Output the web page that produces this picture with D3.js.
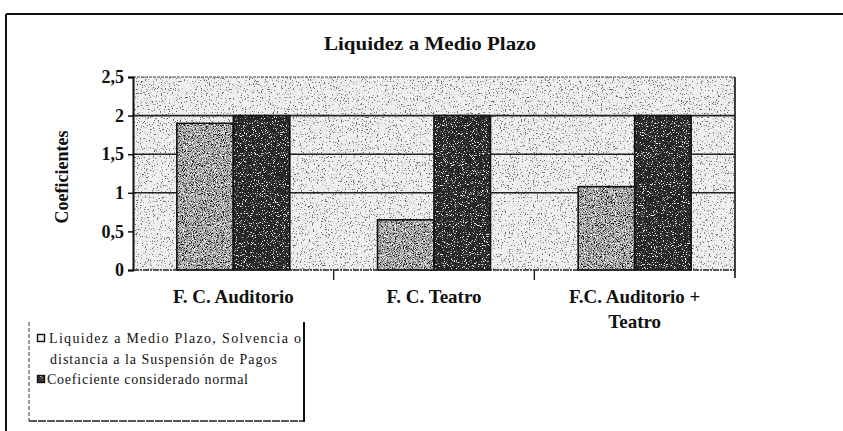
<!DOCTYPE html>
<html>
<head>
<meta charset="utf-8">
<script src="https://cdn.jsdelivr.net/npm/d3@7"></script>
<style>
  body { margin: 0; background: #fff; }
  svg { display: block; }
  text { font-family: "Liberation Serif", "DejaVu Serif", serif; fill: #111; }
</style>
</head>
<body>
<script>
// chart values
var categories = ["F. C. Auditorio", "F. C. Teatro", "F.C. Auditorio + Teatro"];
var categoryLines = [["F. C. Auditorio"], ["F. C. Teatro"], ["F.C. Auditorio +", "Teatro"]];
var liquidez = [1.9, 0.65, 1.08];
var normal = [2, 2, 2];
var yTicks = [0, 0.5, 1, 1.5, 2, 2.5];
var yTickLabels = ["0", "0,5", "1", "1,5", "2", "2,5"];
var gridValues = [1, 1.5, 2];
var seriesNames = ["Liquidez a Medio Plazo, Solvencia o distancia a la Suspensión de Pagos",
                   "Coeficiente considerado normal"];

var width = 843, height = 431;
var plot = {left: 133, right: 735, top: 77, bottom: 270};

var svg = d3.select("body").append("svg")
    .attr("width", width).attr("height", height);
var defs = svg.append("defs");

// speckle texture like the scanned hatch fills
function speckle(id, seed, freq, rgb, k, off) {
  var f = defs.append("filter").attr("id", id)
      .attr("x", 0).attr("y", 0).attr("width", 1).attr("height", 1)
      .attr("color-interpolation-filters", "sRGB");
  f.append("feTurbulence").attr("type", "fractalNoise")
      .attr("baseFrequency", freq).attr("numOctaves", 2).attr("seed", seed).attr("result", "n");
  f.append("feColorMatrix").attr("in", "n").attr("type", "matrix")
      .attr("values", "0 0 0 0 " + rgb[0] + "  0 0 0 0 " + rgb[1] + "  0 0 0 0 " + rgb[2] + "  " + k + " 0 0 0 " + off);
}
speckle("bgDots", 3, 0.75, [0.4, 0.4, 0.4], 9, -5.5);
speckle("lightDark", 5, 0.9, [0.1, 0.1, 0.1], 7, -3.6);
speckle("lightWhite", 9, 0.9, [1, 1, 1], -7, 3.2);
speckle("darkWhite", 7, 0.9, [1, 1, 1], -8, 3.3);

function texturedRect(g, x, y, w, h, base, filters) {
  g.append("rect").attr("x", x).attr("y", y).attr("width", w).attr("height", h).attr("fill", base);
  filters.forEach(function(f) {
    g.append("rect").attr("x", x).attr("y", y).attr("width", w).attr("height", h)
        .attr("fill", "#000").attr("filter", "url(#" + f + ")");
  });
}

// outer frame (only top and left survive in the scan)
svg.append("line").attr("x1", 6).attr("x2", width).attr("y1", 14).attr("y2", 14)
    .attr("stroke", "#111").attr("stroke-width", 2);
svg.append("line").attr("x1", 6).attr("x2", 6).attr("y1", 14).attr("y2", height)
    .attr("stroke", "#111").attr("stroke-width", 2);

// title
svg.append("text").attr("x", 430).attr("y", 50).attr("text-anchor", "middle")
    .attr("textLength", 212).attr("lengthAdjust", "spacingAndGlyphs")
    .style("font-size", "19px").style("font-weight", "bold")
    .text("Liquidez a Medio Plazo");

var x = d3.scaleBand().domain(categories).range([plot.left, plot.right])
    .paddingInner(0.437).paddingOuter(0.2185);
var xSub = d3.scaleBand().domain([0, 1]).range([0, x.bandwidth()]);
var y = d3.scaleLinear().domain([0, 2.5]).range([plot.bottom, plot.top]);

// plot background
var bg = svg.append("g");
texturedRect(bg, plot.left, y(2.5), plot.right - plot.left, y(0) - y(2.5), "#f0f0f0", ["bgDots"]);

// gridlines
svg.append("g").selectAll("line").data(gridValues).enter().append("line")
    .attr("x1", plot.left).attr("x2", plot.right)
    .attr("y1", function(d) { return y(d); }).attr("y2", function(d) { return y(d); })
    .attr("stroke", "#222").attr("stroke-width", 1.6);
svg.append("line").attr("x1", plot.left).attr("x2", plot.right)
    .attr("y1", y(2.5)).attr("y2", y(2.5))
    .attr("stroke", "#444").attr("stroke-width", 1.2).attr("stroke-dasharray", "3,1");
svg.append("line").attr("x1", plot.right).attr("x2", plot.right)
    .attr("y1", y(2.5)).attr("y2", y(0) + 8)
    .attr("stroke", "#111").attr("stroke-width", 1.6);

// bars
var bars = svg.append("g");
categories.forEach(function(c, i) {
  var x0 = x(c);
  texturedRect(bars, x0 + xSub(0), y(liquidez[i]), xSub.bandwidth(), y(0) - y(liquidez[i]),
      "#ababab", ["lightDark", "lightWhite"]);
  texturedRect(bars, x0 + xSub(1), y(normal[i]), xSub.bandwidth(), y(0) - y(normal[i]),
      "#262626", ["darkWhite"]);
});
bars.selectAll("rect.outline")
    .data(categories.flatMap(function(c, i) {
      return [{c: c, s: 0, v: liquidez[i]}, {c: c, s: 1, v: normal[i]}];
    }))
    .enter().append("rect").attr("class", "outline")
    .attr("x", function(d) { return x(d.c) + xSub(d.s); })
    .attr("y", function(d) { return y(d.v); })
    .attr("width", xSub.bandwidth())
    .attr("height", function(d) { return y(0) - y(d.v); })
    .attr("fill", "none").attr("stroke", "#111").attr("stroke-width", 1.6);

// y axis
var yAxis = svg.append("g").attr("transform", "translate(" + plot.left + ",0)")
    .call(d3.axisLeft(y).tickValues(yTicks)
      .tickFormat(function(d, i) { return yTickLabels[i]; })
      .tickSize(5).tickPadding(4));
yAxis.select(".domain").attr("stroke", "#111").attr("stroke-width", 2);
yAxis.selectAll(".tick line").attr("stroke", "#111").attr("stroke-width", 1.5);
yAxis.selectAll(".tick text")
    .style("font-family", "'Liberation Serif', serif")
    .style("font-size", "18px").style("font-weight", "bold").attr("fill", "#111");

// x axis
var xAxis = svg.append("g").attr("transform", "translate(0," + plot.bottom + ")");
xAxis.append("line").attr("x1", plot.left).attr("x2", plot.right)
    .attr("stroke", "#222").attr("stroke-width", 1.6).attr("stroke-dasharray", "6,1,2,1");
xAxis.selectAll("line.tick").data(categories.slice(1)).enter().append("line")
    .attr("class", "tick")
    .attr("x1", function(d) { return x(d) - x.step() * x.paddingInner() / 2; })
    .attr("x2", function(d) { return x(d) - x.step() * x.paddingInner() / 2; })
    .attr("y1", 0).attr("y2", 10).attr("stroke", "#222").attr("stroke-width", 1.4);
var catLabels = xAxis.selectAll("text.cat").data(categories).enter().append("text")
    .attr("class", "cat")
    .attr("text-anchor", "middle")
    .style("font-size", "19px").style("font-weight", "bold");
catLabels.each(function(d, i) {
  var t = d3.select(this);
  categoryLines[i].forEach(function(line, j) {
    t.append("tspan").attr("x", x(d) + x.bandwidth() / 2).attr("y", 33 + j * 25).text(line);
  });
});

// y title
svg.append("text")
    .attr("transform", "translate(68,177) rotate(-90)")
    .attr("text-anchor", "middle")
    .style("font-size", "18px").style("font-weight", "bold")
    .text("Coeficientes");

// legend
var lg = svg.append("g");
lg.append("line").attr("x1", 29).attr("x2", 29).attr("y1", 322).attr("y2", 421)
    .attr("stroke", "#333").attr("stroke-width", 1).attr("stroke-dasharray", "4,2");
lg.append("line").attr("x1", 29).attr("x2", 304).attr("y1", 421).attr("y2", 421)
    .attr("stroke", "#222").attr("stroke-width", 1.6).attr("stroke-dasharray", "8,1");
lg.append("line").attr("x1", 304).attr("x2", 304).attr("y1", 322).attr("y2", 422)
    .attr("stroke", "#111").attr("stroke-width", 2);

lg.append("rect").attr("x", 37.5).attr("y", 334.5).attr("width", 7).attr("height", 7)
    .attr("fill", "#eee").attr("stroke", "#111").attr("stroke-width", 1.4);
var m2 = lg.append("g");
texturedRect(m2, 37.5, 375.5, 7, 7, "#333", ["darkWhite"]);
lg.append("rect").attr("x", 37.5).attr("y", 375.5).attr("width", 7).attr("height", 7)
    .attr("fill", "none").attr("stroke", "#111").attr("stroke-width", 1.4);

var legendText = [
  {t: "Liquidez a Medio Plazo, Solvencia o", x: 49, y: 343, w: 252},
  {t: "distancia a la Suspensión de Pagos", x: 50, y: 364, w: 227},
  {t: seriesNames[1], x: 47, y: 384, w: 201}
];
lg.selectAll("text").data(legendText).enter().append("text")
    .attr("x", function(d) { return d.x; }).attr("y", function(d) { return d.y; })
    .attr("textLength", function(d) { return d.w; })
    .attr("lengthAdjust", "spacing")
    .style("font-size", "14px")
    .text(function(d) { return d.t; });
</script>
</body>
</html>
